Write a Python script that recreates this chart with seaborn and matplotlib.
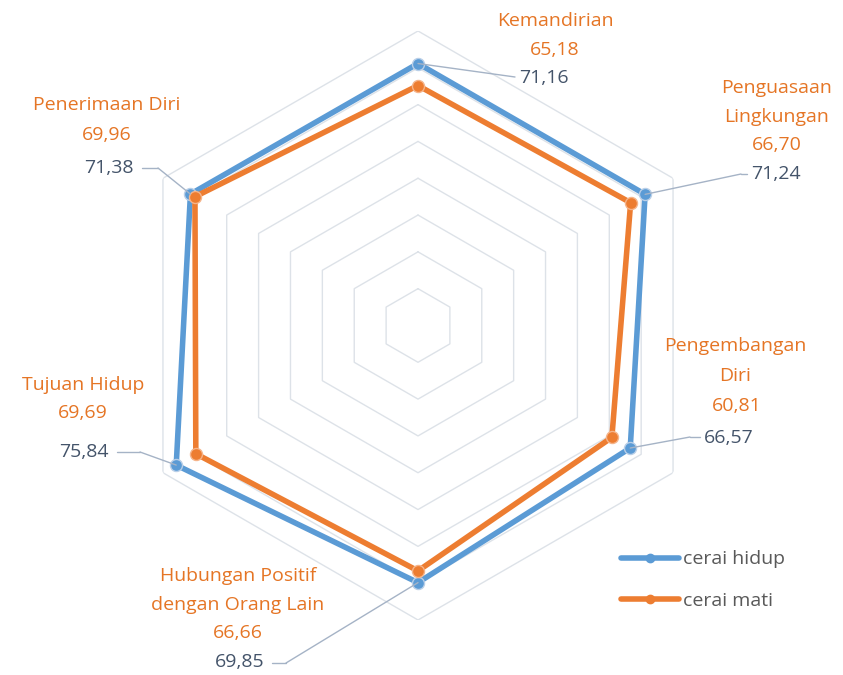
import numpy as np
import pandas as pd
import matplotlib
matplotlib.use("Agg")
import matplotlib.pyplot as plt
import seaborn as sns
from matplotlib.patches import ConnectionPatch
from matplotlib.lines import Line2D

# ---------------- data ----------------
categories = ["Kemandirian", "Penguasaan\nLingkungan", "Pengembangan\nDiri",
              "Hubungan Positif\ndengan Orang Lain", "Tujuan Hidup", "Penerimaan Diri"]
cerai_hidup = [71.16, 71.24, 66.57, 69.85, 75.84, 71.38]
cerai_mati = [65.18, 66.70, 60.81, 66.66, 69.69, 69.96]
series_names = ["cerai hidup", "cerai mati"]
r_max = 80
r_step = 10

# ---------------- style ----------------
sns.set_theme(style="white")
plt.rcParams["font.family"] = ["Open Sans", "DejaVu Sans"]

BLUE = "#5B9BD5"
ORANGE = "#ED7D31"
ORANGE_TXT = "#E57525"
DARK_TXT = "#44546A"
GRID = "#DDE2E8"
LEADER = "#A5B3C6"
FS = 14

W, H = 843, 675
fig = plt.figure(figsize=(W / 100, H / 100), dpi=100)
ax = fig.add_axes([0.1465, 0.0815, 0.6987, 0.8726], projection="polar")
ax.set_theta_zero_location("E")
ax.set_theta_direction(1)
ax.set_ylim(0, r_max)
ax.axis("off")

n = len(categories)
theta = np.deg2rad(90 - 60 * np.arange(n))

# hexagonal grid
for lvl in np.arange(r_step, r_max + 0.1, r_step):
    tt = np.append(theta, theta[0])
    ax.plot(tt, [lvl] * (n + 1), color=GRID, lw=1.0, zorder=1)

def closed(vals):
    return pd.DataFrame({"theta": np.append(theta, theta[0]),
                         "r": np.append(vals, vals[0])})

for vals, col, name in [(cerai_hidup, BLUE, series_names[0]),
                        (cerai_mati, ORANGE, series_names[1])]:
    df = closed(vals)
    sns.lineplot(data=df, x="theta", y="r", sort=False, ax=ax, color=col,
                 lw=4.0, zorder=3, estimator=None)
    sns.scatterplot(data=df.iloc[:-1], x="theta", y="r", ax=ax, color=col,
                    s=75, edgecolor="#B9CFE8" if col == BLUE else "#F5B48A",
                    linewidth=1.0, zorder=4, legend=False)
ax.set_xlabel("")
ax.set_ylabel("")
if ax.get_legend() is not None:
    ax.get_legend().remove()

# ---------------- labels ----------------
def F(x, y):
    return (x / W, 1 - y / H)

label_specs = [
    dict(name_xy=[(555, 21)], ov_xy=(555, 50), dv_xy=(519, 78), dv_ha="left",
         leader=[(515, 77)]),
    dict(name_xy=[(777, 88), (777, 117)], ov_xy=(777, 145), dv_xy=(751, 174), dv_ha="left",
         leader=[(741, 174), (747, 174)]),
    dict(name_xy=[(735, 346), (735, 376)], ov_xy=(737, 406), dv_xy=(704, 438), dv_ha="left",
         leader=[(690, 437), (700, 437)]),
    dict(name_xy=[(238, 576), (238, 605)], ov_xy=(238, 633), dv_xy=(264, 662), dv_ha="right",
         leader=[(286, 663), (272, 663)]),
    dict(name_xy=[(83, 385)], ov_xy=(83, 413), dv_xy=(109, 452), dv_ha="right",
         leader=[(140, 452), (117, 452)]),
    dict(name_xy=[(107, 105)], ov_xy=(107, 135), dv_xy=(134, 168), dv_ha="right",
         leader=[(158, 168), (142, 168)]),
]

for i, spec in enumerate(label_specs):
    for line, xy in zip(categories[i].split("\n"), spec["name_xy"]):
        fig.text(*F(*xy), line, color=ORANGE_TXT, fontsize=FS, ha="center", va="center")
    fig.text(*F(*spec["ov_xy"]), f"{cerai_mati[i]:.2f}".replace(".", ","),
             color=ORANGE_TXT, fontsize=FS, ha="center", va="center")
    fig.text(*F(*spec["dv_xy"]), f"{cerai_hidup[i]:.2f}".replace(".", ","),
             color=DARK_TXT, fontsize=FS, ha=spec["dv_ha"], va="center")
    pts = spec["leader"]
    cp = ConnectionPatch(xyA=(theta[i], cerai_hidup[i]), coordsA=ax.transData,
                         xyB=F(*pts[0]), coordsB="figure fraction",
                         color=LEADER, lw=1.0, zorder=2)
    fig.add_artist(cp)
    if len(pts) > 1:
        (x0, y0), (x1, y1) = F(*pts[0]), F(*pts[1])
        fig.add_artist(Line2D([x0, x1], [y0, y1], transform=fig.transFigure,
                              color=LEADER, lw=1.0))

# ---------------- legend ----------------
handles = [Line2D([], [], color=BLUE, lw=4.0, marker="o", markersize=6),
           Line2D([], [], color=ORANGE, lw=4.0, marker="o", markersize=6)]
fig.legend(handles, series_names, loc="center left",
           bbox_to_anchor=(603 / W, 1 - 580 / H), frameon=False,
           fontsize=FS, numpoints=1, handlelength=3.0, handletextpad=0.2,
           labelspacing=1.2, labelcolor="#595959")

fig.savefig("out.png", dpi=100, facecolor="white")
